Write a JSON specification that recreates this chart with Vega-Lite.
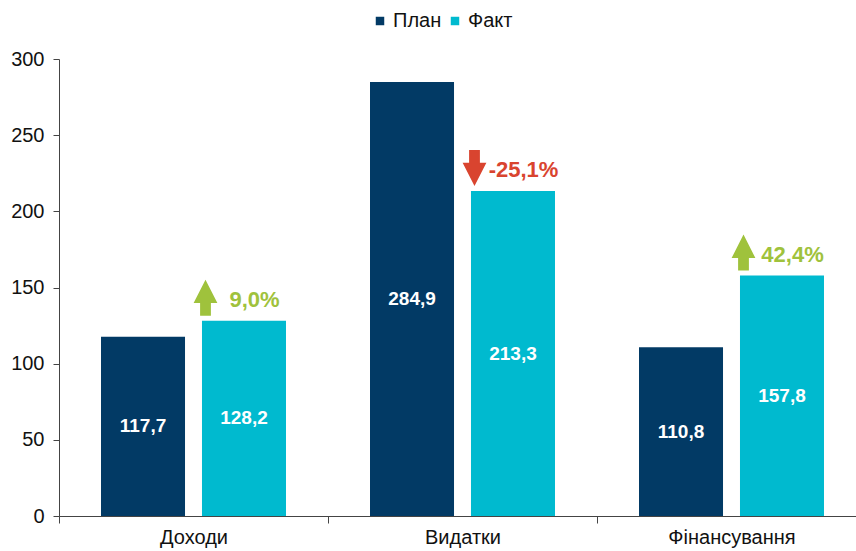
{
  "$schema": "https://vega.github.io/schema/vega-lite/v6.json",
  "width": 797,
  "height": 457,
  "autosize": {"type": "none"},
  "padding": {"left": 59, "top": 59, "right": 0, "bottom": 35},
  "background": "white",
  "config": {"view": {"stroke": null}, "font": "Liberation Sans"},
  "datasets": {
    "bars": [
      {"cat": "Доходи", "series": "План", "value": 117.7, "label": "117,7"},
      {"cat": "Доходи", "series": "Факт", "value": 128.2, "label": "128,2"},
      {"cat": "Видатки", "series": "План", "value": 284.9, "label": "284,9"},
      {"cat": "Видатки", "series": "Факт", "value": 213.3, "label": "213,3"},
      {"cat": "Фінансування", "series": "План", "value": 110.8, "label": "110,8"},
      {"cat": "Фінансування", "series": "Факт", "value": 157.8, "label": "157,8"}
    ],
    "notes": [
      {"cat": "Доходи", "value": 128.2, "pct": "9,0%", "dir": "up"},
      {"cat": "Видатки", "value": 213.3, "pct": "-25,1%", "dir": "down"},
      {"cat": "Фінансування", "value": 157.8, "pct": "42,4%", "dir": "up"}
    ]
  },
  "encoding": {
    "x": {
      "field": "cat",
      "type": "nominal",
      "scale": {"domain": ["Доходи", "Видатки", "Фінансування"], "range": [0, 807], "paddingInner": 0, "paddingOuter": 0},
      "axis": {"title": null, "labelAngle": 0, "tickBand": "extent", "tickSize": 7, "domainColor": "#444", "tickColor": "#444", "labelFontSize": 20, "labelColor": "#111", "labelPadding": 4},
      "title": null
    }
  },
  "layer": [
    {
      "data": {"name": "bars"},
      "mark": {"type": "bar"},
      "encoding": {
        "xOffset": {"field": "series", "type": "nominal", "scale": {"domain": ["План", "Факт"], "paddingInner": 0.168, "paddingOuter": 0.416}},
        "y": {"field": "value", "type": "quantitative", "scale": {"domain": [0, 300]},
          "axis": {"title": null, "values": [0, 50, 100, 150, 200, 250, 300], "grid": false, "tickSize": 6, "labelPadding": 9, "labelFontSize": 20, "labelColor": "#111", "domainColor": "#444", "tickColor": "#444"}},
        "color": {"field": "series", "type": "nominal",
          "scale": {"domain": ["План", "Факт"], "range": ["#023a65", "#00bacf"]},
          "legend": {"title": null, "orient": "none", "legendX": 311, "legendY": -48, "direction": "horizontal", "symbolType": "square", "symbolSize": 72, "symbolStrokeWidth": 0, "labelFontSize": 20, "labelColor": "#111", "columnPadding": 3, "labelOffset": 3}}
      }
    },
    {
      "data": {"name": "bars"},
      "mark": {"type": "text", "color": "white", "fontWeight": "bold", "fontSize": 19, "baseline": "middle"},
      "encoding": {
        "xOffset": {"field": "series", "type": "nominal", "scale": {"domain": ["План", "Факт"], "paddingInner": 0.168, "paddingOuter": 0.416}},
        "y": {"field": "value", "type": "quantitative", "scale": {"domain": [0, 600]}, "axis": null},
        "text": {"field": "label"}
      }
    },
    {
      "data": {"name": "notes"},
      "mark": {"type": "point", "filled": true, "size": 1296, "opacity": 1, "xOffset": 12, "yOffset": -23, "strokeWidth": 0},
      "encoding": {
        "y": {"field": "value", "type": "quantitative", "scale": {"domain": [0, 300]}, "axis": null},
        "shape": {"field": "dir", "type": "nominal",
          "scale": {"domain": ["up", "down"], "range": ["M0,-1L0.66,0.3L0.3,0.3L0.3,1L-0.3,1L-0.3,0.3L-0.66,0.3Z", "M0,1L0.66,-0.3L0.3,-0.3L0.3,-1L-0.3,-1L-0.3,-0.3L-0.66,-0.3Z"]},
          "legend": null},
        "color": {"field": "dir", "type": "nominal", "scale": {"domain": ["up", "down"], "range": ["#9fc23c", "#d9442f"]}, "legend": null}
      }
    },
    {
      "data": {"name": "notes"},
      "mark": {"type": "text", "fontWeight": "bold", "fontSize": 22, "dx": 61, "dy": -21, "baseline": "middle"},
      "encoding": {
        "y": {"field": "value", "type": "quantitative", "scale": {"domain": [0, 300]}, "axis": null},
        "text": {"field": "pct"},
        "color": {"field": "dir", "type": "nominal", "scale": {"domain": ["up", "down"], "range": ["#9fc23c", "#d9442f"]}, "legend": null}
      }
    }
  ],
  "resolve": {"scale": {"y": "independent", "color": "independent"}}
}
